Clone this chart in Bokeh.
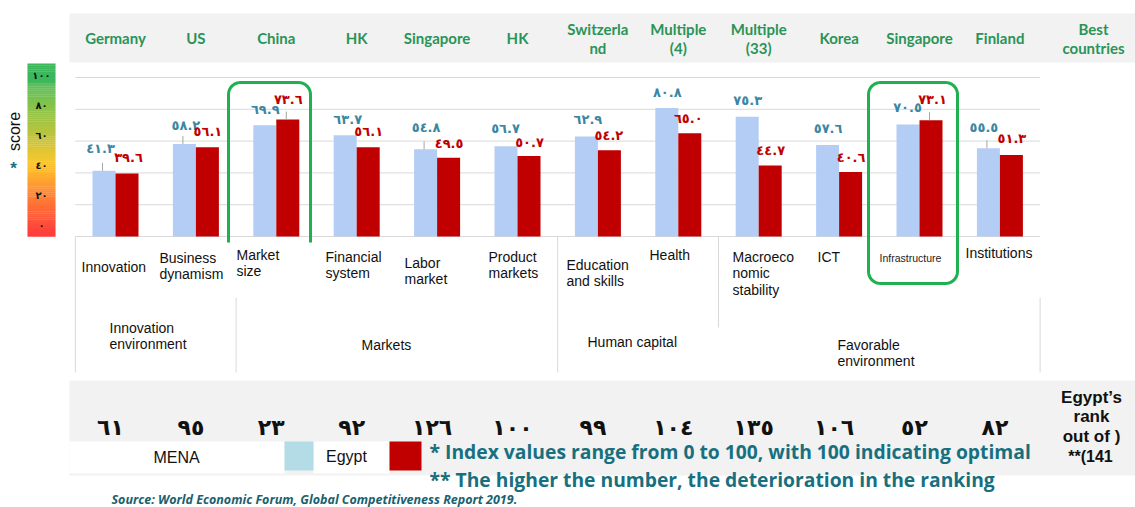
import numpy as np
from bokeh.plotting import figure
from bokeh.models import Range1d, ColumnDataSource
from bokeh.core.properties import value
from bokeh.embed import file_html
from bokeh.resources import INLINE

# ---------------- data ----------------
best_countries = ["Germany", "US", "China", "HK", "Singapore", "HK", "Switzerla\nnd",
                  "Multiple\n(4)", "Multiple\n(33)", "Korea", "Singapore", "Finland"]
pillars = ["Innovation", "Business\ndynamism", "Market\nsize", "Financial\nsystem",
           "Labor\nmarket", "Product\nmarkets", "Education\nand skills", "Health",
           "Macroeco\nnomic\nstability", "ICT", "Infrastructure", "Institutions"]
mena_scores = [41.3, 58.2, 69.9, 63.7, 54.8, 56.7, 62.9, 80.8, 75.3, 57.6, 70.5, 55.5]
egypt_scores = [39.6, 56.1, 73.6, 56.1, 49.5, 50.7, 54.2, 65.0, 44.7, 40.6, 73.1, 51.3]
egypt_rank = [61, 95, 23, 92, 126, 100, 99, 104, 135, 106, 52, 82]
groups = ["Innovation\nenvironment", "Markets", "Human capital", "Favorable\nenvironment"]
group_bounds = [0, 2, 6, 8, 12]
score_ticks = [100, 80, 60, 40, 20, 0]
grid_values = [0, 20, 40, 60, 80, 100]
series_names = ["MENA", "Egypt"]

# ---------------- layout / style ----------------
W, H = 1135, 507
X0, STEP = 74.8, 80.4      # px of first category edge, px per category
Y0, K = 236.0, 1.59        # px of score 0, px per score unit
HALF = 23.0 / STEP

# label offsets above bar tops (px), per category
mena_lbl_dy = [22, 18.5, 16, 16, 22, 18, 17, 15.5, 16, 16, 17, 21]
egypt_lbl_dy = [16, 16, 20, 16, 14, 13, 15, 15, 15, 14, 21, 16]
mena_lbl_dx = [-3.5, 1.5, 0.5, 2.5, 0.5, -0.5, 1.5, 0.5, 0.5, 0.5, -0.5, -4.5]
egypt_lbl_dx = [1.5, 0.5, 0.5, 0.5, 0.5, 0.5, -0.5, -1.5, 0.5, 0.5, 1.5, 0.5]

HEAD_GREEN = "#2a9457"
BOX_GREEN = "#1fb14f"
BLUE_BAR = "#b4cdf4"
RED_BAR = "#c00000"
BLUE_LBL = "#3a86a3"
TEAL = "#17707f"
GRID = "#d9d9d9"
BAND = "#f2f2f2"
LEG_BLUE = "#b3dce7"

AR = str.maketrans("0123456789", "٠١٢٣٤٥٦٧٨٩")


def ar(s):
    return str(s).translate(AR)


p = figure(width=W, height=H,
           x_range=Range1d(-X0 / STEP, (W - X0) / STEP),
           y_range=Range1d((Y0 - H) / K, Y0 / K),
           output_backend="svg", toolbar_location=None, min_border=0,
           x_axis_location=None, y_axis_location=None,
           outline_line_color=None, background_fill_color="white",
           border_fill_color="white")
p.grid.visible = False
p.extra_x_ranges = {"px": Range1d(0, W)}
p.extra_y_ranges = {"px": Range1d(H, 0)}
PX = dict(x_range_name="px", y_range_name="px")

n = len(best_countries)
centers = np.arange(n) + 0.5

# header band and rank band
p.quad(left=[69], right=[W], top=[13], bottom=[62], fill_color=BAND, line_color=None, **PX)
p.quad(left=[69], right=[W], top=[380], bottom=[475], fill_color=BAND, line_color=None, **PX)

# gridlines
p.segment(x0=[0] * len(grid_values), x1=[n] * len(grid_values), y0=grid_values, y1=grid_values,
          line_color=GRID, line_width=1)

# table separators (at group boundaries)
sep_top = [236, 297, 236, 236, 297]
sep_bot = [372, 372, 372, 327, 372]
p.segment(x0=group_bounds, x1=group_bounds, y0=sep_top, y1=sep_bot,
          line_color=GRID, line_width=1, y_range_name="px")

# bars
xb = centers - HALF / 2
xr = centers + HALF / 2
src = ColumnDataSource(dict(
    xb=xb, xr=xr,
    mena=mena_scores, egypt=egypt_scores,
    mena_lbl=[ar(f"{v:.1f}") for v in mena_scores],
    egypt_lbl=[ar(f"{v:.1f}") for v in egypt_scores],
    mena_lx=[x + d / STEP for x, d in zip(xb, mena_lbl_dx)],
    egypt_lx=[x + d / STEP for x, d in zip(xr, egypt_lbl_dx)],
    mena_ly=[v + d / K for v, d in zip(mena_scores, mena_lbl_dy)],
    egypt_ly=[v + d / K for v, d in zip(egypt_scores, egypt_lbl_dy)],
))
p.vbar(x="xb", top="mena", bottom=0, width=HALF, fill_color=BLUE_BAR, line_color=None, source=src)
p.vbar(x="xr", top="egypt", bottom=0, width=HALF, fill_color=RED_BAR, line_color=None, source=src)

# leader lines
lead = [(0, 0), (0, 1), (1, 2), (0, 4), (1, 10), (0, 11)]
lx, ly0, ly1 = [], [], []
for s, i in lead:
    v = mena_scores[i] if s == 0 else egypt_scores[i]
    cx = xb[i] if s == 0 else xr[i]
    lx.append(cx - 1.5 / STEP)
    ly0.append(v)
    ly1.append(v + 5.0)
p.segment(x0=lx, x1=lx, y0=ly0, y1=ly1, line_color="#a6a6a6", line_width=1)

p.text(x="mena_lx", y="mena_ly", text="mena_lbl", source=src, text_color=BLUE_LBL,
       text_font=value("DejaVu Sans"), text_font_size="13px", text_font_style="bold",
       text_align="center", text_baseline="middle")
p.text(x="egypt_lx", y="egypt_ly", text="egypt_lbl", source=src, text_color=RED_BAR,
       text_font=value("DejaVu Sans"), text_font_size="13px", text_font_style="bold",
       text_align="center", text_baseline="middle")


# highlight boxes (rounded)
def rounded(x0, x1, yt, yb, r, closed):
    t = np.linspace(0, np.pi / 2, 12)
    xs, ys = [], []
    if closed:
        xs += [x0]; ys += [yb - r]
    else:
        xs += [x0]; ys += [yb]
    cx, cy = x0 + r, yt + r
    xs += list(cx - r * np.cos(t)); ys += list(cy - r * np.sin(t))
    cx, cy = x1 - r, yt + r
    xs += list(cx + r * np.sin(t)); ys += list(cy - r * np.cos(t))
    if closed:
        cx, cy = x1 - r, yb - r
        xs += list(cx + r * np.cos(t)); ys += list(cy + r * np.sin(t))
        cx, cy = x0 + r, yb - r
        xs += list(cx - r * np.sin(t)); ys += list(cy + r * np.cos(t))
        xs += [x0]; ys += [yb - r]
    else:
        xs += [x1]; ys += [yb]
    return xs, ys


for (bx0, bx1, byt, byb, closed) in [(228, 310, 82, 242, False), (868, 957, 82, 283, True)]:
    xs, ys = rounded(bx0, bx1, byt, byb, 12, closed)
    p.line(xs, ys, line_color=BOX_GREEN, line_width=3, line_join="round", **PX)

# header country labels
hx = list(centers) + [(1093 - X0) / STEP]
htxt = best_countries + ["Best\ncountries"]
htop = [19 if "\n" in t else 28 for t in htxt]
p.text(x=hx, y=htop, text=htxt, text_color=HEAD_GREEN, text_font=value("Lato"),
       text_font_size="15px", text_font_style="bold", text_align="center",
       text_baseline="top", text_line_height=1.06, y_range_name="px")

# pillar labels
sub_left = [81, 159, 236, 325, 404, 488, 566, 649, 732, 817, 910, 965]
sub_y = [266, 257, 254, 256, 262, 256, 264, 254, 256, 256, 257, 252]
idx = [i for i in range(n) if pillars[i] != "Infrastructure"]
p.text(x=[sub_left[i] for i in idx], y=[sub_y[i] - 8 for i in idx],
       text=[pillars[i] for i in idx], text_color="#111111",
       text_font=value("Liberation Sans"), text_font_size="14px",
       text_align="left", text_baseline="top", text_line_height=1.06, **PX)
ii = pillars.index("Infrastructure")
p.text(x=[sub_left[ii]], y=[sub_y[ii]], text=[pillars[ii]], text_color="#222222",
       text_font=value("Liberation Sans"), text_font_size="10.5px",
       text_align="center", text_baseline="middle", **PX)

# group labels
g_left = [109, 361, 587, 837]
g_y = [327, 344, 341, 344]
p.text(x=g_left, y=[v - 8 for v in g_y], text=groups, text_color="#111111",
       text_font=value("Liberation Sans"), text_font_size="14px",
       text_align="left", text_baseline="top", text_line_height=1.06, **PX)

# colour scale on the left
stops_y = [63, 82, 83, 106, 136, 160, 172, 194, 225, 236]
stops_c = [(60, 184, 92), (60, 184, 92), (92, 191, 94), (134, 196, 74), (193, 196, 60),
           (245, 200, 49), (255, 181, 46), (255, 133, 51), (255, 74, 60), (255, 59, 59)]
ny = 90
edges = np.linspace(63, 236, ny + 1)
mids = (edges[:-1] + edges[1:]) / 2
cols = []
for m in mids:
    r = np.interp(m, stops_y, [c[0] for c in stops_c])
    g = np.interp(m, stops_y, [c[1] for c in stops_c])
    b = np.interp(m, stops_y, [c[2] for c in stops_c])
    cols.append("#%02x%02x%02x" % (int(r), int(g), int(b)))
p.quad(left=[27] * ny, right=[55] * ny, top=list(edges[:-1]), bottom=list(edges[1:] + 0.3),
       fill_color=cols, line_color=None, **PX)
p.text(x=[41] * len(score_ticks), y=[75 + (100 - t) * 1.5 for t in score_ticks],
       text=[ar(t) for t in score_ticks], text_color="#111111",
       text_font=value("DejaVu Sans"), text_font_size="10px", text_font_style="bold",
       text_align="center", text_baseline="middle", **PX)
p.text(x=[14], y=[131], text=["score"], angle=np.pi / 2, text_color="#111111",
       text_font=value("Liberation Sans"), text_font_size="16px",
       text_align="center", text_baseline="middle", **PX)
p.text(x=[13], y=[168], text=["*"], text_color=TEAL,
       text_font=value("Liberation Sans"), text_font_size="17px", text_font_style="bold",
       text_align="center", text_baseline="middle", **PX)

# ranks
p.text(x=list(centers - 5 / STEP), y=[427] * n, text=[ar(r) for r in egypt_rank],
       text_color="#111111", text_font=value("DejaVu Sans"), text_font_size="22px",
       text_font_style="bold", text_align="center", text_baseline="middle",
       y_range_name="px")
p.text(x=[1091], y=[397 - 9.5], text=["Egypt’s\nrank\nout of )"], text_color="#111111",
       text_font=value("Liberation Sans"), text_font_size="17px", text_font_style="bold",
       text_align="center", text_baseline="top", text_line_height=1.02, **PX)
p.text(x=[1090], y=[456], text=["**(141"], text_color="#111111",
       text_font=value("Liberation Sans"), text_font_size="16px", text_font_style="bold",
       text_align="center", text_baseline="middle", **PX)

# legend row
p.quad(left=[69, 313], right=[284, 389], top=[441, 441], bottom=[473, 473],
       fill_color="white", line_color=None, **PX)
p.quad(left=[284, 389], right=[313, 421], top=[441, 441], bottom=[470, 470],
       fill_color=[LEG_BLUE, RED_BAR], line_color=None, **PX)
p.text(x=[176, 346], y=[457, 456], text=series_names, text_color="#111111",
       text_font=value("Liberation Sans"), text_font_size="16px",
       text_align="center", text_baseline="middle", **PX)

# notes
p.text(x=[429, 429], y=[451, 479],
       text=["* Index values range from 0 to 100, with 100 indicating optimal",
             "** The higher the number, the deterioration in the ranking"],
       text_color=TEAL, text_font=value("Open Sans"), text_font_size="19.3px", text_font_style="bold",
       text_align="left", text_baseline="middle", **PX)
p.text(x=[111], y=[499], text=["Source: World Economic Forum, Global Competitiveness Report 2019."],
       text_color="#1a6170", text_font=value("Open Sans"), text_font_size="12.5px",
       text_font_style="bold italic", text_align="left", text_baseline="middle", **PX)

open("out.html", "w").write(file_html(p, INLINE))
